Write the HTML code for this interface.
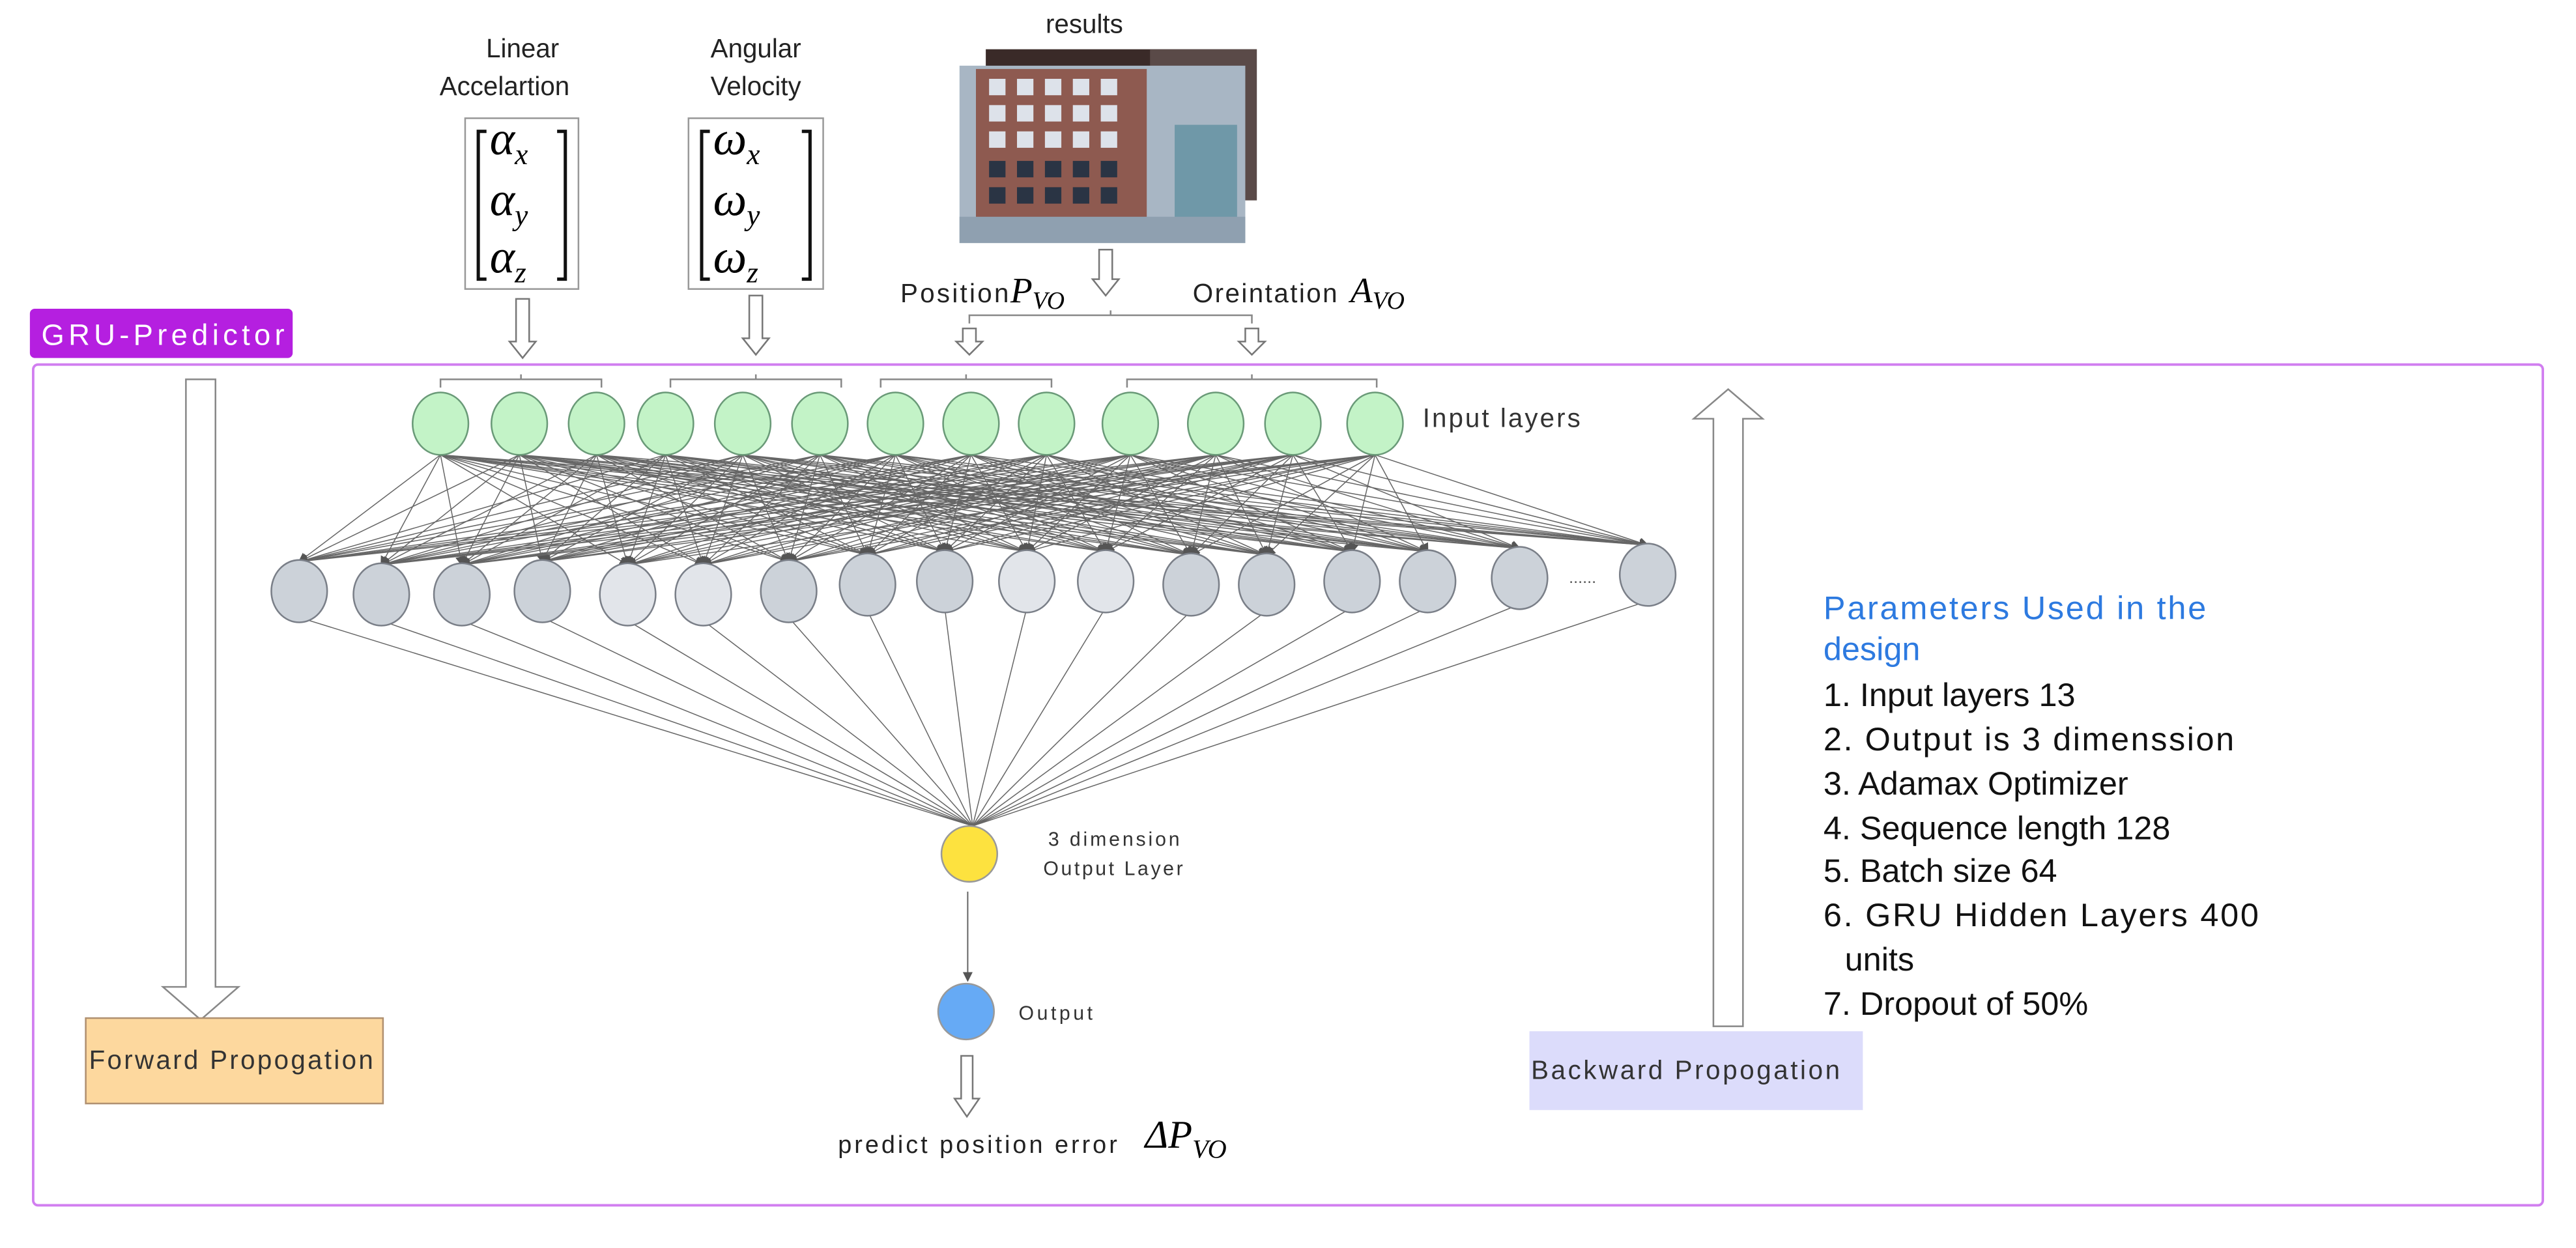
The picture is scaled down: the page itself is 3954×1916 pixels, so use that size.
<!DOCTYPE html>
<html><head><meta charset="utf-8"><style>
html,body{margin:0;padding:0;background:#fff;}
svg{display:block;}
text{font-family:"Liberation Sans",sans-serif;}
.m{font-family:"Liberation Serif",serif;font-style:italic;}
</style></head><body>
<svg id="s" width="3954" height="1916" viewBox="0 0 1568 760" xmlns="http://www.w3.org/2000/svg">
<defs>
<marker id="ah" markerWidth="6" markerHeight="6" refX="5" refY="3" orient="auto" markerUnits="userSpaceOnUse"><path d="M0,0 L6,3 L0,6 z" fill="#555"/></marker>
</defs>
<rect x="0" y="0" width="1568" height="760" fill="#fff"/>
<rect x="20" y="222" width="1528" height="512" rx="3" fill="none" stroke="#d17ef0" stroke-width="1.5"/>
<rect x="18" y="188" width="160" height="30" rx="3" fill="#b51fe0"/>
<text x="25" y="210" font-size="18" fill="#fff" textLength="148">GRU-Predictor</text>

<text x="318" y="35" font-size="16" fill="#222" text-anchor="middle">Linear</text>
<text x="307" y="58" font-size="16" fill="#222" text-anchor="middle">Accelartion</text>
<text x="460" y="35" font-size="16" fill="#222" text-anchor="middle">Angular</text>
<text x="460" y="58" font-size="16" fill="#222" text-anchor="middle">Velocity</text>
<text x="660" y="20" font-size="16" fill="#222" text-anchor="middle">results</text>

<rect x="283" y="72" width="69" height="104" fill="#fff" stroke="#999"/>
<path d="M296,80 h-5 v90 h5 M339,80 h5 v90 h-5" fill="none" stroke="#111" stroke-width="2"/>
<text class="m" x="298" y="94" font-size="29">α<tspan font-size="18" dy="6">x</tspan></text>
<text class="m" x="298" y="131" font-size="29">α<tspan font-size="18" dy="6">y</tspan></text>
<text class="m" x="298" y="166" font-size="29">α<tspan font-size="18" dy="6">z</tspan></text>
<rect x="419" y="72" width="82" height="104" fill="#fff" stroke="#999"/>
<path d="M432,80 h-5 v90 h5 M488,80 h5 v90 h-5" fill="none" stroke="#111" stroke-width="2"/>
<text class="m" x="434" y="94" font-size="29">ω<tspan font-size="18" dy="6">x</tspan></text>
<text class="m" x="434" y="131" font-size="29">ω<tspan font-size="18" dy="6">y</tspan></text>
<text class="m" x="434" y="166" font-size="29">ω<tspan font-size="18" dy="6">z</tspan></text>

<rect x="600" y="30" width="165" height="92" fill="#3a2a28"/>
<rect x="700" y="30" width="65" height="92" fill="#5a4a48"/>
<rect x="584" y="40" width="174" height="108" fill="#a8b6c4"/>
<rect x="594" y="42" width="104" height="100" fill="#8e5a50"/>
<g fill="#dde2ea">
<rect x="602" y="48" width="10" height="10"/><rect x="619" y="48" width="10" height="10"/><rect x="636" y="48" width="10" height="10"/><rect x="653" y="48" width="10" height="10"/><rect x="670" y="48" width="10" height="10"/>
<rect x="602" y="64" width="10" height="10"/><rect x="619" y="64" width="10" height="10"/><rect x="636" y="64" width="10" height="10"/><rect x="653" y="64" width="10" height="10"/><rect x="670" y="64" width="10" height="10"/>
<rect x="602" y="80" width="10" height="10"/><rect x="619" y="80" width="10" height="10"/><rect x="636" y="80" width="10" height="10"/><rect x="653" y="80" width="10" height="10"/><rect x="670" y="80" width="10" height="10"/>
</g>
<g fill="#2a3444">
<rect x="602" y="98" width="10" height="10"/><rect x="619" y="98" width="10" height="10"/><rect x="636" y="98" width="10" height="10"/><rect x="653" y="98" width="10" height="10"/><rect x="670" y="98" width="10" height="10"/>
<rect x="602" y="114" width="10" height="10"/><rect x="619" y="114" width="10" height="10"/><rect x="636" y="114" width="10" height="10"/><rect x="653" y="114" width="10" height="10"/><rect x="670" y="114" width="10" height="10"/>
</g>
<rect x="715" y="76" width="38" height="68" fill="#6f98a8"/>
<rect x="584" y="132" width="174" height="16" fill="#8fa0b0"/>

<g fill="#fff" stroke="#777" stroke-width="1">
<path d="M669,152 h8 v18 h4 l-8,10 l-8,-10 h4 z"/>
<path d="M314,182 h8 v26 h4 l-8,10 l-8,-10 h4 z"/>
<path d="M456,180 h8 v26 h4 l-8,10 l-8,-10 h4 z"/>
<path d="M586,200 h8 v8 h4 l-8,8 l-8,-8 h4 z"/>
<path d="M758,200 h8 v8 h4 l-8,8 l-8,-8 h4 z"/>
</g>
<path d="M590,197 v-5 h172 v5 M676,192 v-3" fill="none" stroke="#888"/>
<text x="548" y="184" font-size="16" fill="#222" textLength="66">Position</text>
<text class="m" x="615" y="184" font-size="22">P<tspan font-size="15" dy="4">VO</tspan></text>
<text x="726" y="184" font-size="16" fill="#222" textLength="88">Oreintation</text>
<text class="m" x="822" y="184" font-size="22">A<tspan font-size="15" dy="4">VO</tspan></text>

<path d="M268,236 v-5 h98 v5 M317,231 v-3 M408,236 v-5 h104 v5 M460,231 v-3 M536,236 v-5 h104 v5 M588,231 v-3 M686,236 v-5 h152 v5 M762,231 v-3" fill="none" stroke="#888"/>

<g id="lines" stroke="#666" stroke-width="0.6" fill="none"></g>
<g id="nodes"></g>

<text x="866" y="260" font-size="16" fill="#333" textLength="96">Input layers</text>
<text x="955" y="355" font-size="10" fill="#555">......</text>

<circle cx="590" cy="520" r="17" fill="#fde23f" stroke="#999"/>
<text x="638" y="515" font-size="12" fill="#333" textLength="80">3 dimension</text>
<text x="635" y="533" font-size="12" fill="#333" textLength="85">Output Layer</text>
<line x1="589" y1="543" x2="589" y2="597" stroke="#666" stroke-width="0.8" marker-end="url(#ah)"/>
<circle cx="588" cy="616" r="17" fill="#66aaf5" stroke="#999"/>
<text x="620" y="621" font-size="12" fill="#333" textLength="45">Output</text>
<path d="M585,643 h7 v26 h4 l-7.5,11 l-7.5,-11 h4 z" fill="#fff" stroke="#777"/>
<text x="510" y="702" font-size="15" fill="#222" textLength="170">predict position error</text>
<text class="m" x="697" y="699" font-size="24">ΔP<tspan font-size="16" dy="6">VO</tspan></text>

<path d="M113,231 h18 v370 h14 l-23,20 l-23,-20 h14 z" fill="#fff" stroke="#888"/>
<rect x="52" y="620" width="181" height="52" fill="#fdd89e" stroke="#b09070"/>
<text x="54" y="651" font-size="16" fill="#333" textLength="173">Forward Propogation</text>
<path d="M1043,625 v-370 h-12 l21,-18 l21,18 h-12 v370 z" fill="#fff" stroke="#888"/>
<rect x="931" y="628" width="203" height="48" fill="#dcdcfb"/>
<text x="932" y="657" font-size="16" fill="#333" textLength="188">Backward Propogation</text>

<g font-size="20" fill="#111">
<text x="1110" y="377" fill="#2d7ae0" textLength="233">Parameters Used in the</text>
<text x="1110" y="402" fill="#2d7ae0">design</text>
<text x="1110" y="430">1. Input layers 13</text>
<text x="1110" y="457" textLength="250">2. Output is 3 dimenssion</text>
<text x="1110" y="484">3. Adamax Optimizer</text>
<text x="1110" y="511">4. Sequence length 128</text>
<text x="1110" y="537">5. Batch size 64</text>
<text x="1110" y="564" textLength="265">6. GRU Hidden Layers 400</text>
<text x="1123" y="591">units</text>
<text x="1110" y="618">7. Dropout of 50%</text>
</g>
</svg>
<script>
var NS="http://www.w3.org/2000/svg";
var inx=[268,316,363,405,452,499,545,591,637,688,740,787,837], iny=258;
var hx=[182,232,281,330,382,428,480,528,575,625,673,725,771,823,869,925,1003];
var hy=[360,362,362,360,362,362,360,356,354,354,354,356,356,354,354,352,350];
var light=[0,0,0,0,1,1,0,0,0,1,1,0,0,0,0,0,0];
var L=document.getElementById("lines"),N=document.getElementById("nodes");
function el(t,a,p){var e=document.createElementNS(NS,t);for(var k in a)e.setAttribute(k,a[k]);p.appendChild(e);return e;}
for(var i=0;i<inx.length;i++){for(var j=0;j<hx.length;j++){
 if((i*7+j*3)%5==4) continue;
 el("line",{x1:inx[i],y1:iny+19,x2:hx[j],y2:hy[j]-18,"marker-end":"url(#ah)"},L);}}
for(var j=0;j<hx.length;j++){el("line",{x1:hx[j],y1:hy[j]+16,x2:592,y2:503},L);}
for(var i=0;i<inx.length;i++) el("ellipse",{cx:inx[i],cy:iny,rx:17,ry:19,fill:"#c3f3c7",stroke:"#6a9a78"},N);
for(var j=0;j<hx.length;j++) el("ellipse",{cx:hx[j],cy:hy[j],rx:17,ry:19,fill:light[j]?"#e2e5ea":"#ccd2d9",stroke:"#7a7f88"},N);
</script>
</body></html>
